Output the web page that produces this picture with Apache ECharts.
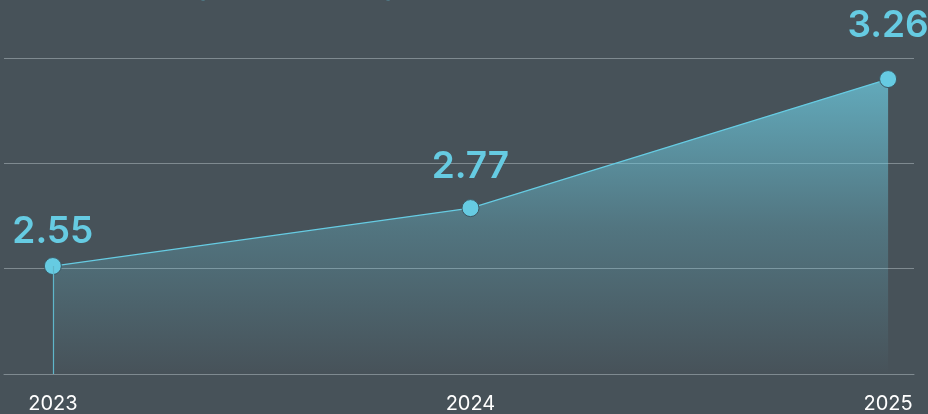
<!DOCTYPE html>
<html>
<head>
<meta charset="utf-8">
<script src="https://cdn.jsdelivr.net/npm/echarts@6/dist/echarts.min.js"></script>
<style>
  html, body { margin: 0; padding: 0; background: #475259; }
  #chart { width: 928px; height: 414px; }
</style>
</head>
<body>
<div id="chart"></div>
<script>
// chart values
const years = [2023, 2024, 2025]
const values = [2.55, 2.77, 3.26]
const titleText = 'Yearly spending per employee growth'

const cyan = '#66cbe2'
// how far each value label sits above its point
const labelGap = [7, 14, 26]

const chart = echarts.init(document.getElementById('chart'))
chart.setOption({
  backgroundColor: '#475259',
  animation: false,
  title: {
    text: titleText,
    left: 18,
    top: -29,
    textStyle: { color: cyan, fontFamily: 'Inter', fontSize: 24, fontWeight: 600 }
  },
  grid: { left: 4, right: 14, top: 58, bottom: 40 },
  xAxis: {
    type: 'value',
    min: 2022.883,
    max: 2025.062,
    axisLine: { show: true, onZero: false, lineStyle: { color: '#7f8a90', width: 1 } },
    axisTick: { show: false },
    splitLine: { show: false },
    axisLabel: {
      customValues: years,
      formatter: v => String(v),
      color: '#ffffff',
      fontFamily: 'Inter',
      fontSize: 20,
      margin: 20
    }
  },
  yAxis: {
    type: 'value',
    min: 2.14,
    max: 3.34,
    interval: 0.4,
    axisLabel: { show: false },
    axisLine: { show: false },
    axisTick: { show: false },
    splitLine: { lineStyle: { color: '#7f8a90', width: 1 } }
  },
  series: [{
    type: 'line',
    data: years.map((y, i) => ({ value: [y, values[i]], label: { distance: labelGap[i] } })),
    symbol: 'circle',
    symbolSize: 17,
    lineStyle: { color: cyan, width: 1.2 },
    itemStyle: { color: cyan, borderColor: '#3c5863', borderWidth: 1 },
    areaStyle: {
      origin: 'start',
      color: new echarts.graphic.LinearGradient(0, 0, 0, 1, [
        { offset: 0, color: 'rgba(110, 208, 230, 1)' },
        { offset: 0.5, color: 'rgba(110, 208, 230, 0.4)' },
        { offset: 1, color: 'rgba(110, 208, 230, 0.0)' }
      ])
    },
    label: {
      show: true,
      position: 'top',
      color: cyan,
      fontFamily: 'Inter',
      fontSize: 37,
      fontWeight: 600,
      formatter: p => p.value[1].toFixed(2)
    },
    markLine: {
      silent: true,
      symbol: 'none',
      label: { show: false },
      lineStyle: { color: '#5fb6ca', width: 1.2, type: 'solid' },
      data: [[
        { coord: [years[0], 2.14] },
        { coord: [years[0], values[0]] }
      ]]
    }
  }]
})
</script>
</body>
</html>
